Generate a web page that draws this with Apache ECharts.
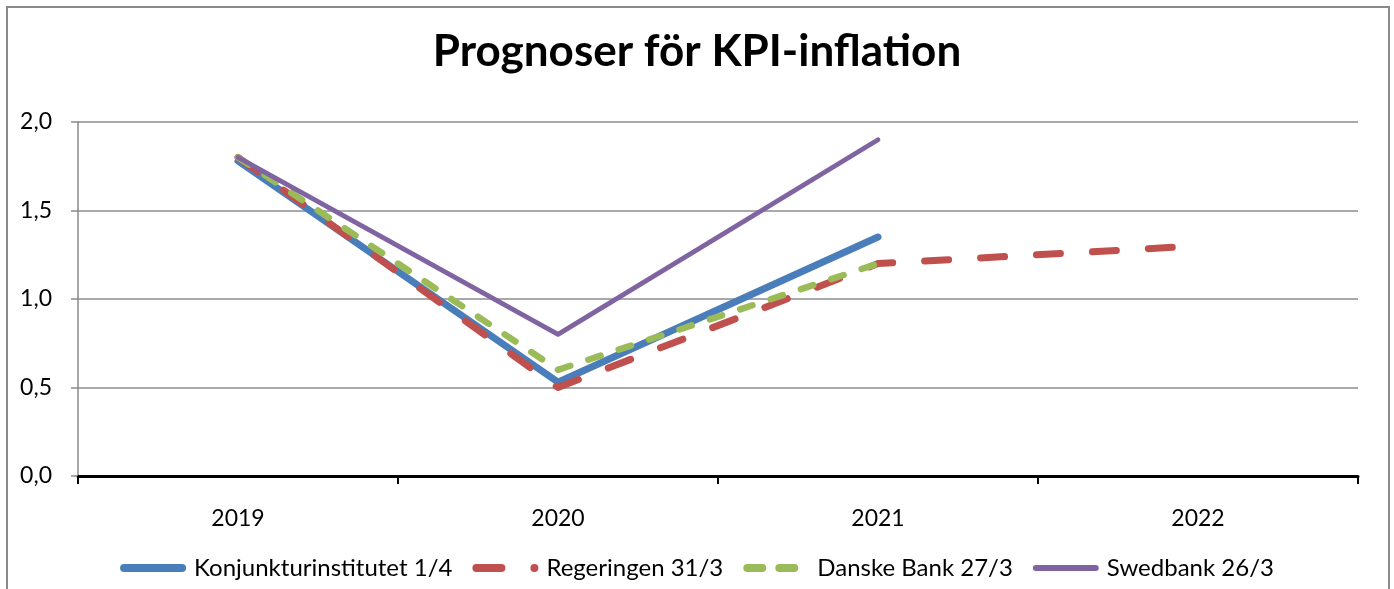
<!DOCTYPE html>
<html>
<head>
<meta charset="utf-8">
<script src="https://cdn.jsdelivr.net/npm/echarts@6/dist/echarts.min.js"></script>
<style>
  html, body { margin: 0; padding: 0; background: #fff; overflow: hidden; }
  #frame { position: absolute; left: 6px; top: 6px; width: 1380px; height: 620px; border: 2px solid #8a8a8a; }
  #chart { position: absolute; left: 0; top: 0; width: 1394px; height: 589px; }
</style>
</head>
<body>
<div id="frame"></div>
<div id="chart"></div>
<script>
var years = ['2019', '2020', '2021', '2022'];
var seriesNames = ['Konjunkturinstitutet 1/4', 'Regeringen 31/3', 'Danske Bank 27/3', 'Swedbank 26/3'];
var konjunktur = [1.78, 0.53, 1.35, null];
var regeringen = [1.8, 0.5, 1.2, 1.3];
var danske = [1.8, 0.6, 1.2, null];
var swedbank = [1.8, 0.8, 1.9, null];

var font = 'Lato, sans-serif';
var chart = echarts.init(document.getElementById('chart'));

// legend icons drawn in a 66x8 box
var icons = [
    'path://M4,0 H62 A4,4 0 0 1 62,8 H4 A4,4 0 0 1 4,0 Z',
    'path://M4,0 H29 A4,4 0 0 1 29,8 H4 A4,4 0 0 1 4,0 Z M62,0 A4,4 0 0 1 62,8 A4,4 0 0 1 62,0 Z M66,4 L66,4.01',
    'path://M4,0 H19 A4,4 0 0 1 19,8 H4 A4,4 0 0 1 4,0 Z M36,0 H51 A4,4 0 0 1 51,8 H36 A4,4 0 0 1 36,0 Z M66,4 L66,4.01',
    'path://M3,1 H63 A3,3 0 0 1 63,7 H3 A3,3 0 0 1 3,1 Z M0,0 L0,0.01 M66,8 L66,8.01'
];

function line(name, data, color, width, dash) {
    return {
        name: name,
        type: 'line',
        data: data,
        symbol: 'none',
        lineStyle: {
            color: color,
            width: width,
            type: dash || 'solid',
            cap: 'round',
            join: 'round'
        },
        itemStyle: { color: color }
    };
}

var option = {
    animation: false,
    textStyle: { fontFamily: font },
    title: {
        text: 'Prognoser för KPI-inflation',
        left: 'center',
        top: 25,
        textStyle: { fontFamily: font, fontSize: 44, fontWeight: 'bold', color: '#000' }
    },
    legend: {
        top: 551,
        left: 'center',
        itemWidth: 66,
        itemHeight: 8,
        itemGap: 20,
        itemStyle: { borderWidth: 0 },
        textStyle: { fontFamily: font, fontSize: 24, color: '#000', padding: [0, 0, 0, 3] },
        data: seriesNames.map(function (n, i) { return { name: n, icon: icons[i] }; })
    },
    grid: { left: 78, right: 36, top: 122, bottom: 113 },
    xAxis: {
        type: 'category',
        data: years,
        boundaryGap: true,
        axisLine: { lineStyle: { color: '#000', width: 3 } },
        axisTick: { show: true, length: 8, lineStyle: { color: '#000', width: 2 } },
        axisLabel: { margin: 31, fontFamily: font, fontSize: 23, color: '#000' }
    },
    yAxis: {
        type: 'value',
        min: 0,
        max: 2,
        interval: 0.5,
        axisLine: { show: true, lineStyle: { color: '#8a8a8a', width: 1.5 } },
        axisTick: { show: true, length: 7, lineStyle: { color: '#8a8a8a', width: 1.5 } },
        splitLine: { lineStyle: { color: '#8c8c8c', width: 1.5 } },
        axisLabel: {
            margin: 26,
            fontFamily: font, fontSize: 23, color: '#000',
            formatter: function (v) { return v.toFixed(1).replace('.', ','); }
        }
    },
    series: [
        line(seriesNames[0], konjunktur, '#4a7ebb', 7),
        line(seriesNames[1], regeringen, '#c0504d', 7, [24, 32]),
        line(seriesNames[2], danske, '#9bbb59', 6.5, [13, 19]),
        line(seriesNames[3], swedbank, '#8064a2', 4.8)
    ]
};
chart.setOption(option);
</script>
</body>
</html>
